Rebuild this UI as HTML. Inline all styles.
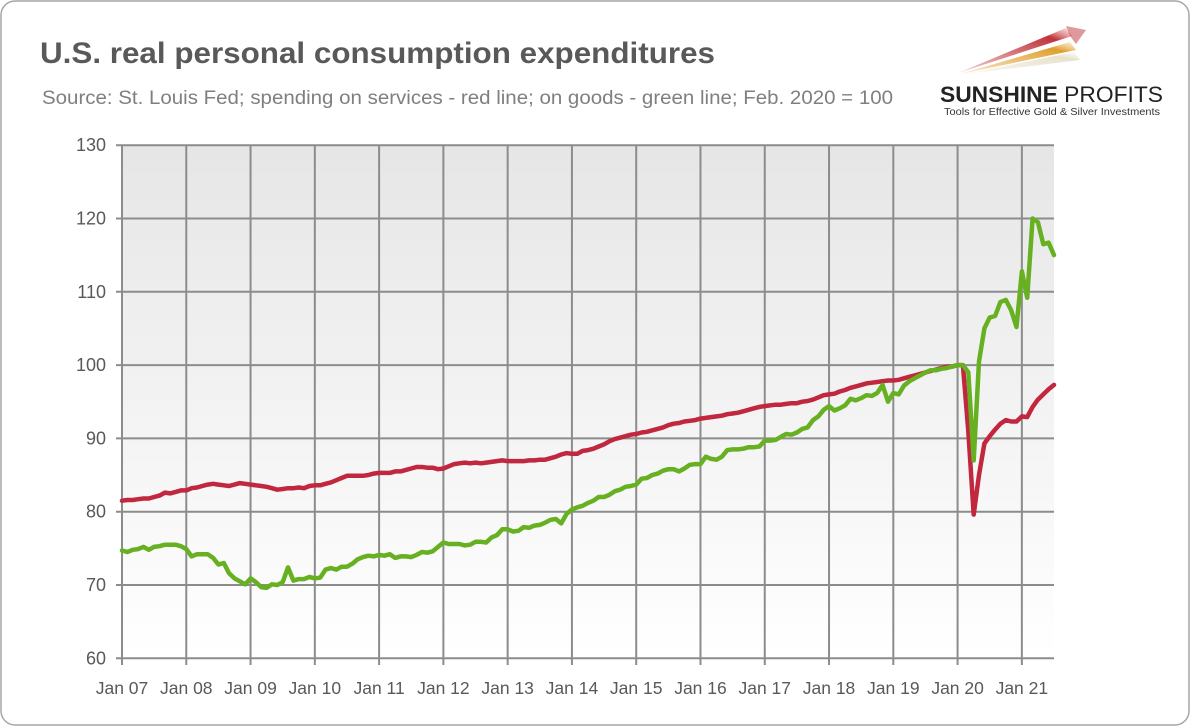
<!DOCTYPE html>
<html><head><meta charset="utf-8">
<style>
body{margin:0;background:#fff;}
svg{display:block;font-family:"Liberation Sans",Arial,sans-serif;}
</style></head>
<body>
<svg id="chart" width="1190" height="726" viewBox="0 0 1190 726">
<defs>
<linearGradient id="bg" x1="0" y1="0" x2="0" y2="1">
<stop offset="0" stop-color="#e6e6e6"/><stop offset="1" stop-color="#ffffff"/>
</linearGradient>
<linearGradient id="ray1" x1="0" y1="1" x2="1" y2="0"><stop offset="0" stop-color="#c0343c" stop-opacity="0.2"/><stop offset="0.8" stop-color="#c0343c"/><stop offset="1" stop-color="#e9a0a0" stop-opacity="0.3"/></linearGradient>
<linearGradient id="ray2" x1="0" y1="1" x2="1" y2="0"><stop offset="0" stop-color="#e0a030" stop-opacity="0.2"/><stop offset="0.8" stop-color="#e0a030"/><stop offset="1" stop-color="#f0d090" stop-opacity="0.3"/></linearGradient>
<linearGradient id="ray3" x1="0" y1="1" x2="1" y2="0"><stop offset="0" stop-color="#e8e0c8" stop-opacity="0.2"/><stop offset="0.8" stop-color="#e8e2cc"/><stop offset="1" stop-color="#f4f2ea" stop-opacity="0.3"/></linearGradient>
</defs>
<rect x="1" y="1" width="1188" height="724" rx="14" fill="#fff" stroke="#a6a6a6" stroke-width="1.5"/>
<text x="40" y="63" font-size="30" font-weight="bold" fill="#595959" textLength="675" lengthAdjust="spacingAndGlyphs">U.S. real personal consumption expenditures</text>
<text x="42" y="104" font-size="19" fill="#7f7f7f" textLength="851" lengthAdjust="spacingAndGlyphs">Source: St. Louis Fed; spending on services - red line; on goods - green line; Feb. 2020 = 100</text>
<g>
<polygon points="958,73 1066,28 1072,36" fill="url(#ray1)"/>
<polygon points="1066,26 1086,30 1076,44 1070,36" fill="#c0343c" opacity="0.5"/>
<polygon points="960,74 1070,42 1076,50" fill="url(#ray2)"/>
<polygon points="966,74 1074,52 1080,60" fill="url(#ray3)"/>
<text x="940" y="102" font-size="22" font-weight="bold" fill="#222" textLength="223" lengthAdjust="spacingAndGlyphs">SUNSHINE <tspan font-weight="normal">PROFITS</tspan></text>
<text x="944" y="115" font-size="10" fill="#333" textLength="216" lengthAdjust="spacingAndGlyphs">Tools for Effective Gold &amp; Silver Investments</text>
</g>
<rect x="122" y="145" width="932" height="513" fill="url(#bg)"/>
<g id="grid"></g>
<g id="axes"></g>
<g id="series"></g>
</svg>
<script>
const yTicks=[60,70,80,90,100,110,120,130];
const xTickLabels=["Jan 07","Jan 08","Jan 09","Jan 10","Jan 11","Jan 12","Jan 13","Jan 14","Jan 15","Jan 16","Jan 17","Jan 18","Jan 19","Jan 20","Jan 21"];
const startYear=2007;
const goods=[
74.7,74.5,74.8,74.9,75.2,74.8,75.2,75.3,75.5,75.5,75.5,75.3,
74.9,73.9,74.2,74.2,74.2,73.7,72.8,73.0,71.6,70.9,70.5,70.1,
70.9,70.4,69.7,69.6,70.1,70.0,70.4,72.4,70.6,70.8,70.8,71.1,
70.9,71.0,72.1,72.3,72.1,72.5,72.5,72.9,73.5,73.8,74.0,73.9,
74.1,74.0,74.2,73.7,73.9,73.9,73.8,74.1,74.5,74.4,74.6,75.2,
75.8,75.6,75.6,75.6,75.4,75.5,75.9,75.9,75.8,76.5,76.8,77.6,
77.6,77.3,77.4,77.9,77.8,78.1,78.2,78.5,78.9,79.0,78.4,79.7,
80.3,80.6,80.8,81.2,81.5,82.0,82.0,82.3,82.8,83.0,83.4,83.5,
83.7,84.5,84.6,85.0,85.2,85.6,85.8,85.8,85.5,85.9,86.4,86.5,
86.5,87.5,87.2,87.1,87.5,88.4,88.5,88.5,88.6,88.8,88.8,88.9,
89.7,89.7,89.8,90.2,90.6,90.5,90.8,91.3,91.5,92.5,93.0,93.9,
94.4,93.8,94.1,94.5,95.4,95.2,95.5,95.9,95.8,96.2,97.3,95.0,
96.2,96.0,97.2,97.8,98.2,98.6,99.0,99.3,99.3,99.5,99.6,99.8,
100,100,99,87,100.5,105,106.5,106.7,108.6,108.9,107.5,105.2,
112.8,109.2,120,119.5,116.5,116.7,115];
const services=[
81.5,81.6,81.6,81.7,81.8,81.8,82.0,82.2,82.6,82.5,82.7,82.9,
82.9,83.2,83.3,83.5,83.7,83.8,83.7,83.6,83.5,83.7,83.9,83.8,
83.7,83.6,83.5,83.4,83.2,83.0,83.1,83.2,83.2,83.3,83.2,83.5,
83.6,83.6,83.8,84.0,84.3,84.6,84.9,84.9,84.9,84.9,85.0,85.2,
85.3,85.3,85.3,85.5,85.5,85.7,85.9,86.1,86.1,86.0,86.0,85.8,
85.9,86.2,86.5,86.6,86.7,86.6,86.7,86.6,86.7,86.8,86.9,87.0,
86.9,86.9,86.9,86.9,87.0,87.0,87.1,87.1,87.3,87.5,87.8,88.0,
87.9,87.9,88.3,88.4,88.6,88.9,89.2,89.6,89.9,90.1,90.3,90.5,
90.6,90.8,90.9,91.1,91.3,91.5,91.8,92.0,92.1,92.3,92.4,92.5,
92.7,92.8,92.9,93.0,93.1,93.3,93.4,93.5,93.7,93.9,94.1,94.3,
94.4,94.5,94.6,94.6,94.7,94.8,94.8,95.0,95.1,95.3,95.6,95.9,
96.0,96.1,96.4,96.6,96.9,97.1,97.3,97.5,97.6,97.7,97.8,97.9,
97.9,98.0,98.2,98.4,98.6,98.8,99.0,99.2,99.4,99.6,99.8,99.8,
100,100,91,79.6,85,89.3,90.3,91.2,92,92.5,92.3,92.3,
93,92.9,94.3,95.3,96,96.7,97.3];

const NS="http://www.w3.org/2000/svg";
const X0=122, MONTH=(1054-122)/174;
const Y0=658.3, YMIN=60, YPX=7.33;
function xs(i){return X0+i*MONTH;}
function ys(v){return Y0-(v-YMIN)*YPX;}
function mk(tag,attrs,parent){const e=document.createElementNS(NS,tag);for(const k in attrs)e.setAttribute(k,attrs[k]);parent.appendChild(e);return e;}
const grid=document.getElementById('grid'), axes=document.getElementById('axes'), series=document.getElementById('series');
yTicks.forEach(v=>{
  const l=mk('line',{x1:116,x2:1054,y1:ys(v),y2:ys(v),stroke:'#8c8c8c','stroke-width':2},grid);
  
  
  const t=mk('text',{x:106,y:ys(v)+6,'text-anchor':'end','font-size':18,fill:'#595959'},axes);
  t.textContent=v;
  
  
});
xTickLabels.forEach((lab,k)=>{
  const x=xs(k*12);
  const l=mk('line',{x1:x,x2:x,y1:145,y2:665,stroke:'#8c8c8c','stroke-width':2},grid);
  
  
  const t=mk('text',{x:x,y:694,'text-anchor':'middle','font-size':17.5,fill:'#595959'},axes);
  t.textContent=lab;
  
  
});
function line(data,color,name){
  const d=data.map((v,i)=>(i?'L':'M')+xs(i).toFixed(1)+','+ys(v).toFixed(1)).join('');
  const p=mk('path',{d:d,fill:'none',stroke:color,'stroke-width':4.5,'stroke-linejoin':'round','stroke-linecap':'round'},series);
  
  
}
line(services,'#c1273f','services-line');
line(goods,'#66b022','goods-line');
</script>
</body></html>
